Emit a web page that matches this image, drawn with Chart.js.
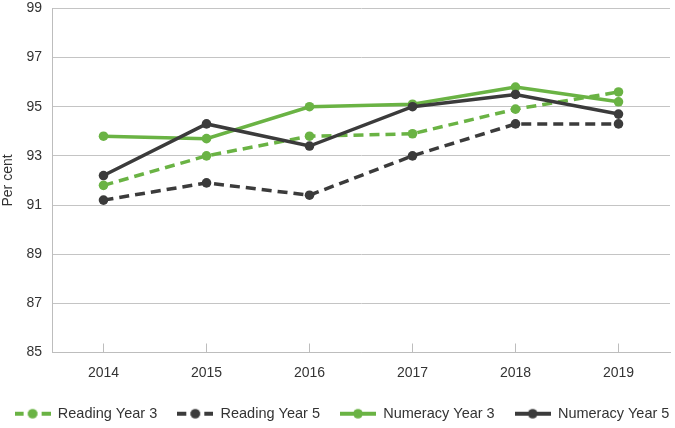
<!DOCTYPE html>
<html>
<head>
<meta charset="utf-8">
<script src="https://cdn.jsdelivr.net/npm/chart.js@4"></script>
<style>
  html, body { margin: 0; padding: 0; background: #fff; }
  #wrap { width: 675px; height: 428px; position: relative; }
</style>
</head>
<body>
<div id="wrap"><canvas id="mainChart"></canvas></div>
<script>
// Data
const years = ["2014", "2015", "2016", "2017", "2018", "2019"];
const readingY3 = [91.8, 93.0, 93.8, 93.9, 94.9, 95.6];
const readingY5 = [91.2, 91.9, 91.4, 93.0, 94.3, 94.3];
const numeracyY3 = [93.8, 93.7, 95.0, 95.1, 95.8, 95.2];
const numeracyY5 = [92.2, 94.3, 93.4, 95.0, 95.5, 94.7];
const yTicks = [85, 87, 89, 91, 93, 95, 97, 99];

const GREEN = "#6ab344";
const DARK = "#3b3b3b";
const DASH = [10, 6];

// small legend symbol: line with a dot in the middle
function legendIcon(color, dashed) {
  const c = document.createElement("canvas");
  c.width = 36; c.height = 12;
  const g = c.getContext("2d");
  g.strokeStyle = color;
  g.lineWidth = 4;
  if (dashed) g.setLineDash([9, 4.5]);
  g.beginPath();
  g.moveTo(0, 6);
  g.lineTo(36, 6);
  g.stroke();
  g.setLineDash([]);
  g.fillStyle = color;
  g.beginPath();
  g.arc(18, 6, 4.8, 0, Math.PI * 2);
  g.fill();
  return c;
}

function series(label, data, color, dashed, order) {
  return {
    label: label,
    data: data,
    borderColor: color,
    backgroundColor: color,
    borderWidth: 3.5,
    borderDash: dashed ? DASH : [],
    pointRadius: 4.8,
    pointHoverRadius: 4.8,
    pointBorderWidth: 0,
    tension: 0,
    order: order,
    icon: legendIcon(color, dashed)
  };
}

// let the legend keep all four items on one row
const EXTRA = 40;
const wideLegend = {
  id: "wideLegend",
  afterInit(chart) {
    const lg = chart.legend;
    const upd = lg.update;
    lg.update = function (w, h, m) { return upd.call(this, w + EXTRA, h, m); };
    const drw = lg.draw;
    lg.draw = function () {
      const r = this.right;
      this.right = r + EXTRA;
      this.ctx.save();
      this.ctx.translate(-13, 0);
      drw.apply(this, arguments);
      this.ctx.restore();
      this.right = r;
    };
  }
};

Chart.defaults.font.family = "'Liberation Sans', Arial, sans-serif";
Chart.defaults.color = "#333";

new Chart(document.getElementById("mainChart"), {
  type: "line",
  data: {
    labels: years,
    datasets: [
      series("Reading Year 3", readingY3, GREEN, true, 2),
      series("Reading Year 5", readingY5, DARK, true, 3),
      series("Numeracy Year 3", numeracyY3, GREEN, false, 1),
      series("Numeracy Year 5", numeracyY5, DARK, false, 0)
    ]
  },
  plugins: [wideLegend],
  options: {
    responsive: true,
    maintainAspectRatio: false,
    animation: false,
    layout: { padding: { top: 0, right: 5, left: 0, bottom: -3 } },
    plugins: {
      tooltip: { enabled: false },
      legend: {
        position: "bottom",
        labels: {
          usePointStyle: true,
          pointStyleWidth: 36,
          padding: 20,
          font: { size: 14.5 },
          color: "#333",
          generateLabels: function (chart) {
            return chart.data.datasets.map(function (ds, i) {
              return {
                text: ds.label,
                pointStyle: ds.icon,
                fillStyle: ds.borderColor,
                strokeStyle: ds.borderColor,
                lineWidth: 0,
                hidden: false,
                datasetIndex: i,
                fontColor: "#333"
              };
            });
          }
        }
      }
    },
    scales: {
      x: {
        offset: true,
        afterFit: function (scale) { scale.height = 34; },
        grid: {
          offset: false,
          drawOnChartArea: false,
          drawTicks: true,
          tickLength: -9,
          color: "#bdbdbd"
        },
        border: { color: "#bdbdbd", width: 1 },
        ticks: { padding: 21, font: { size: 14 }, color: "#333" }
      },
      y: {
        min: 85,
        max: 99,
        afterBuildTicks: function (scale) {
          scale.ticks = yTicks.map(function (v) { return { value: v }; });
        },
        afterFit: function (scale) { scale.width = 52; },
        grid: { color: "#c4c4c4", drawTicks: true, tickLength: 10, tickColor: "rgba(0,0,0,0)" },
        border: { color: "#bdbdbd", width: 1 },
        ticks: { padding: 0, font: { size: 14 }, color: "#333" },
        title: {
          display: true,
          text: "Per cent",
          font: { size: 14 },
          color: "#333",
          padding: { top: 0, bottom: 2 }
        }
      }
    }
  }
});
</script>
</body>
</html>
